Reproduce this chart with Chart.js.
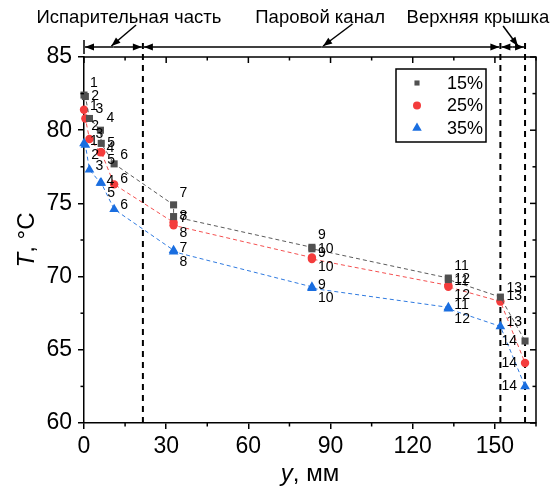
<!DOCTYPE html>
<html lang="ru">
<head>
<meta charset="UTF-8" />
<title>T(y)</title>
<script src="https://cdn.jsdelivr.net/npm/chart.js"></script>
<style>
  html, body { margin: 0; padding: 0; background: #fff; }
  #wrap { width: 552px; height: 488px; }
</style>
</head>
<body>
<div id="wrap"><canvas id="myChart"></canvas></div>
<script>
// thermocouple positions along the pipe, mm
var positions = [0, 0.5, 2, 6, 6.3, 11, 32.7, 32.7, 83.2, 83.2, 133, 133, 152, 161];
var pointNames = ["1", "2", "3", "4", "5", "6", "7", "8", "9", "10", "11", "12", "13", "14"];
// temperatures, deg C
var temp15 = [82.4, 82.3, 80.8, 80.0, 79.1, 77.7, 74.9, 74.1, 72.0, 71.9, 69.9, 69.8, 68.6, 65.6];
var temp25 = [81.4, 80.8, 79.4, 78.5, 78.5, 76.3, 73.7, 73.5, 71.3, 71.2, 69.4, 69.3, 68.3, 64.1];
var temp35 = [79.1, 79.0, 77.3, 76.4, 76.4, 74.6, 71.8, 71.7, 69.3, 69.2, 67.9, 67.8, 66.6, 62.5];
var seriesNames = ["15%", "25%", "35%"];
// section borders, mm
var borders = [21.5, 152, 161];
var sections = ["Испарительная часть", "Паровой канал", "Верхняя крышка"];

var FONT = "'Liberation Sans', Arial, sans-serif";

function pts(temps) {
  return positions.map(function (p, i) { return { x: p, y: temps[i] }; });
}

function series(label, temps, color, lineColor, style, radius) {
  return {
    label: label,
    data: pts(temps),
    showLine: true,
    borderColor: lineColor,
    borderWidth: 1,
    borderDash: [4, 3],
    pointStyle: style,
    pointRadius: radius,
    pointBackgroundColor: color,
    pointBorderColor: color,
    pointBorderWidth: 0,
    clip: false
  };
}

// which label sits where for a pair of overlapping points
var firstOfPair = [0, 3, 6, 8, 10];
var secondOfPair = [1, 4, 7, 9, 11];
var labelDy = [
  { first: -12, second: 0, single: -9 },
  { first: -4, second: 8, single: -5 },
  { first: -2, second: 10, single: -4 }
];

function arrow(ctx, x0, y0, x1, y1) {
  ctx.beginPath();
  ctx.moveTo(x0, y0);
  ctx.lineTo(x1, y1);
  ctx.stroke();
  var a = Math.atan2(y1 - y0, x1 - x0), len = 9, half = 3.5;
  ctx.beginPath();
  ctx.moveTo(x1, y1);
  ctx.lineTo(x1 - len * Math.cos(a) + half * Math.sin(a), y1 - len * Math.sin(a) - half * Math.cos(a));
  ctx.lineTo(x1 - len * Math.cos(a) - half * Math.sin(a), y1 - len * Math.sin(a) + half * Math.cos(a));
  ctx.closePath();
  ctx.fill();
}

var extras = {
  id: "extras",
  beforeDatasetsDraw: function (chart) {
    var ctx = chart.ctx, a = chart.chartArea;
    var xs = chart.scales.x;
    ctx.save();
    // section borders
    ctx.strokeStyle = "#000";
    ctx.lineWidth = 2;
    ctx.setLineDash([6, 5]);
    borders.forEach(function (b) {
      var px = xs.getPixelForValue(b);
      ctx.beginPath();
      ctx.moveTo(px, a.bottom);
      ctx.lineTo(px, a.top - 18);
      ctx.stroke();
    });
    ctx.restore();
  },
  afterDraw: function (chart) {
    var ctx = chart.ctx, a = chart.chartArea;
    var xs = chart.scales.x, ys = chart.scales.y;
    ctx.save();
    ctx.strokeStyle = "#000";
    ctx.fillStyle = "#000";
    ctx.lineWidth = 1.5;
    ctx.setLineDash([]);

    // frame top and right
    ctx.beginPath();
    ctx.moveTo(a.left, a.top);
    ctx.lineTo(a.right, a.top);
    ctx.lineTo(a.right, a.bottom);
    ctx.stroke();

    // ticks: majors and minors
    var v, px, len;
    for (v = 0; v <= 165; v += 15) {
      px = xs.getPixelForValue(v);
      len = v % 30 === 0 ? 6 : 3.5;
      ctx.beginPath();
      ctx.moveTo(px, a.top);
      ctx.lineTo(px, a.top + len);
      ctx.stroke();
      if (v % 30 !== 0) {
        ctx.beginPath();
        ctx.moveTo(px, a.bottom);
        ctx.lineTo(px, a.bottom + len);
        ctx.stroke();
      }
    }
    for (v = 60; v <= 85; v += 2.5) {
      px = ys.getPixelForValue(v);
      len = v % 5 === 0 ? 6 : 3.5;
      ctx.beginPath();
      ctx.moveTo(a.right, px);
      ctx.lineTo(a.right - len, px);
      ctx.stroke();
      if (v % 5 !== 0) {
        ctx.beginPath();
        ctx.moveTo(a.left, px);
        ctx.lineTo(a.left - len, px);
        ctx.stroke();
      }
    }

    // section arrows above the frame
    var ay = a.top - 10;
    var edges = [0].concat(borders);
    ctx.lineWidth = 1.5;
    ctx.beginPath();
    ctx.moveTo(xs.getPixelForValue(0), ay - 7);
    ctx.lineTo(xs.getPixelForValue(0), ay + 7);
    ctx.stroke();
    for (var s = 0; s < sections.length; s++) {
      var x0 = xs.getPixelForValue(edges[s]), x1 = xs.getPixelForValue(edges[s + 1]);
      var mid = (x0 + x1) / 2;
      arrow(ctx, mid, ay, x0 + 1, ay);
      arrow(ctx, mid, ay, x1 - 1, ay);
    }

    // section names with leaders
    ctx.font = "18.5px " + FONT;
    ctx.textAlign = "center";
    ctx.textBaseline = "middle";
    var names = [
      { at: 16.4, from: [19, 25], to: [10, ay - 1] },
      { at: 86.2, from: [98, 24], to: [87.3, ay - 1] },
      { at: 143.8, from: [153, 26], to: [158.4, ay - 1] }
    ];
    names.forEach(function (n, i) {
      ctx.fillText(sections[i], xs.getPixelForValue(n.at), 18);
      arrow(ctx, xs.getPixelForValue(n.from[0]), n.from[1], xs.getPixelForValue(n.to[0]), n.to[1]);
    });

    // point numbers
    ctx.font = "14px " + FONT;
    ctx.textBaseline = "middle";
    chart.data.datasets.forEach(function (ds, si) {
      var meta = chart.getDatasetMeta(si);
      meta.data.forEach(function (el, i) {
        var dy = labelDy[si].single;
        if (firstOfPair.indexOf(i) >= 0) dy = labelDy[si].first;
        if (secondOfPair.indexOf(i) >= 0) dy = labelDy[si].second;
        if (i === pointNames.length - 1) {
          ctx.textAlign = "right";
          ctx.fillText(pointNames[i], el.x - 8, el.y);
        } else {
          ctx.textAlign = "left";
          ctx.fillText(pointNames[i], el.x + 6, el.y + dy);
        }
      });
    });

    // legend
    var lx = a.right - 140, ly = a.top + 12, lw = 90, lh = 73;
    ctx.lineWidth = 1.5;
    ctx.strokeRect(lx, ly, lw, lh);
    ctx.font = "18px " + FONT;
    ctx.textAlign = "left";
    var legR = [3.6, 4, 5.5];
    chart.data.datasets.forEach(function (ds, si) {
      var ry = ly + 14 + si * 22.5;
      ctx.fillStyle = ds.pointBackgroundColor;
      Chart.helpers.drawPoint(ctx, { pointStyle: ds.pointStyle, radius: legR[si], rotation: 0, borderWidth: 0 }, lx + 21, ry);
      ctx.fillStyle = "#000";
      ctx.fillText(ds.label, lx + 51, ry + 1);
    });

    // axis titles with italic symbols
    ctx.fillStyle = "#000";
    ctx.textBaseline = "alphabetic";
    ctx.textAlign = "left";
    var it = "italic 24px " + FONT, rg = "24px " + FONT;
    ctx.font = it; var w1 = ctx.measureText("y").width;
    ctx.font = rg; var w2 = ctx.measureText(", мм").width;
    var cx = (a.left + a.right) / 2 - (w1 + w2) / 2;
    ctx.font = it; ctx.fillText("y", cx, 481);
    ctx.font = rg; ctx.fillText(", мм", cx + w1, 481);

    ctx.save();
    ctx.translate(34, (a.top + a.bottom) / 2);
    ctx.rotate(-Math.PI / 2);
    ctx.font = it; w1 = ctx.measureText("T").width;
    ctx.font = rg; w2 = ctx.measureText(", °C").width;
    ctx.font = it; ctx.fillText("T", -(w1 + w2) / 2, 0);
    ctx.font = rg; ctx.fillText(", °C", -(w1 + w2) / 2 + w1, 0);
    ctx.restore();

    ctx.restore();
  }
};

var ctx = document.getElementById("myChart").getContext("2d");
window.myChart = new Chart(ctx, {
  type: "scatter",
  data: {
    datasets: [
      series(seriesNames[0], temp15, "#505050", "#5a5a5a", "rect", 5),
      series(seriesNames[1], temp25, "#f43c3c", "#f45050", "circle", 4.2),
      series(seriesNames[2], temp35, "#1a6ee0", "#2f7ae0", "triangle", 5.6)
    ]
  },
  options: {
    responsive: true,
    maintainAspectRatio: false,
    animation: false,
    layout: { padding: { top: 57, right: 16, left: 0, bottom: 0 } },
    scales: {
      x: {
        type: "linear",
        min: 0,
        max: 165,
        ticks: { stepSize: 30, includeBounds: false, color: "#000", padding: 4, font: { family: FONT, size: 23 } },
        grid: { drawOnChartArea: false, drawTicks: true, tickLength: 6, color: "#000", lineWidth: 1.5 },
        border: { color: "#000", width: 1.5 },
        afterFit: function (s) { s.height = 65; }
      },
      y: {
        type: "linear",
        min: 60,
        max: 85,
        ticks: { stepSize: 5, color: "#000", padding: 6, font: { family: FONT, size: 23 } },
        grid: { drawOnChartArea: false, drawTicks: true, tickLength: 6, color: "#000", lineWidth: 1.5 },
        border: { color: "#000", width: 1.5 },
        afterFit: function (s) { s.width = 84; }
      }
    },
    plugins: {
      legend: { display: false },
      tooltip: { enabled: false }
    }
  },
  plugins: [extras]
});
</script>
</body>
</html>
